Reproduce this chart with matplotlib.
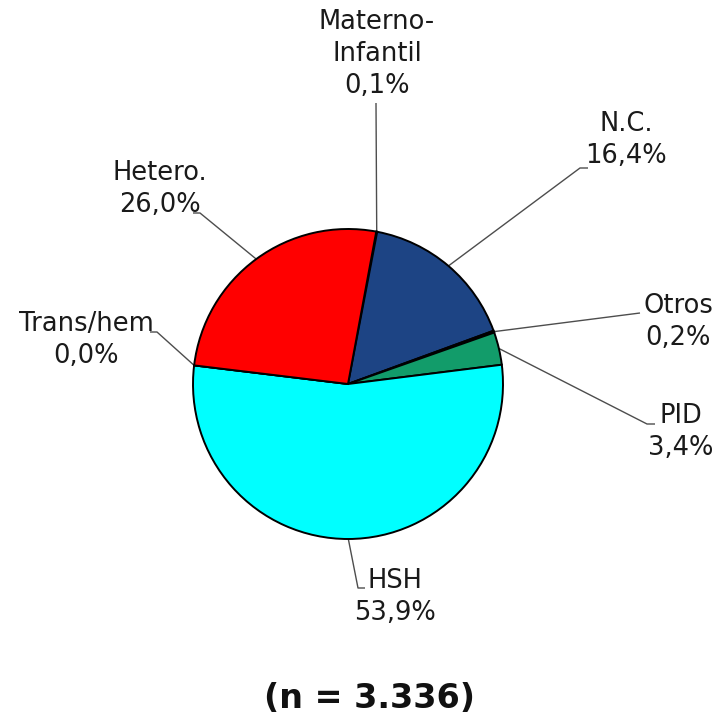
import matplotlib
matplotlib.use("Agg")
import matplotlib.pyplot as plt
import numpy as np

# Transmission categories, clockwise from the top of the pie
categories = ["Materno-\nInfantil", "N.C.", "Otros", "PID", "HSH", "Trans/hem", "Hetero."]
percentages = [0.1, 16.4, 0.2, 3.4, 53.9, 0.0, 26.0]
total_label = "(n = 3.336)"

colors = ["#1a1a1a", "#1d4484", "#111111", "#129c6a", "#00ffff", "#ff8800", "#ff0000"]

W, H = 719, 726
fig = plt.figure(figsize=(W / 100, H / 100), dpi=100)
ax = fig.add_axes([0, 0, 1, 1])


def Y(y):
    """Convert a top-down pixel row into the axes' y coordinate."""
    return H - y


cx, cy, r = 348, Y(384), 155
start = 79.5
wedges, _ = ax.pie(percentages, colors=colors, startangle=start, counterclock=False,
                   center=(cx, cy), radius=r, frame=True,
                   wedgeprops=dict(edgecolor="black", linewidth=1.4))
ax.set_xlim(0, W)
ax.set_ylim(0, H)
ax.set_aspect("equal")
ax.axis("off")

# anchor point of each wedge on the rim (mid-angle)
anchors = []
for w in wedges:
    mid = np.deg2rad((w.theta1 + w.theta2) / 2)
    anchors.append((cx + r * np.cos(mid), cy + r * np.sin(mid)))

# leader line paths (after the rim anchor) and label placement
leaders = [
    [(376, 103)],
    [(580, 168), (588, 168)],
    [(640, 313)],
    [(647, 424), (655, 424)],
    [(358, 588), (365, 588)],
    [(157, 332), (150, 332)],
    [(200, 213), (193, 213)],
]
label_pos = [(377, 54), (626, 140), (678, 322), (681, 432), (395, 597), (86, 340), (160, 189)]

text_kw = dict(fontsize=18.5, color="#1a1a1a", ha="center", va="center",
               multialignment="center", linespacing=1.28, family="DejaVu Sans")

for i, (cat, pct) in enumerate(zip(categories, percentages)):
    ax_, ay_ = anchors[i]
    xs = [ax_] + [p[0] for p in leaders[i]]
    ys = [ay_] + [Y(p[1]) for p in leaders[i]]
    ax.plot(xs, ys, color="#4d4d4d", lw=1.0, zorder=0.5, solid_capstyle="butt")
    lx, ly = label_pos[i]
    pct_txt = f"{pct:.1f}%".replace(".", ",")
    ax.text(lx, Y(ly), f"{cat}\n{pct_txt}", **text_kw)

ax.text(370, Y(699), total_label, fontsize=24, fontweight="bold", color="#111111",
        ha="center", va="center", family="DejaVu Sans")

fig.savefig("out.png", dpi=100, facecolor="white")
